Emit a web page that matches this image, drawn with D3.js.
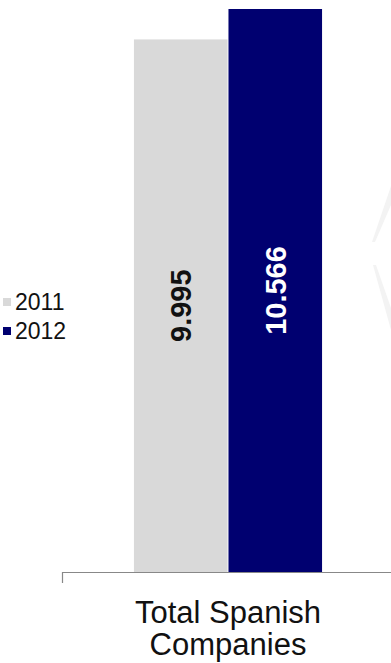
<!DOCTYPE html>
<html>
<head>
<meta charset="utf-8">
<script src="https://cdn.jsdelivr.net/npm/d3@7/dist/d3.min.js"></script>
<style>
html,body{margin:0;padding:0;background:#fff;}
svg{display:block;font-family:Arial,"Liberation Sans",sans-serif;}
</style>
</head>
<body>
<svg id="chart" width="391" height="663"></svg>
<script>
const categories = ["Total Spanish Companies"];
const seriesNames = ["2011", "2012"];
const values2011 = [9995];
const values2012 = [10566];
const valueLabels2011 = ["9.995"];
const valueLabels2012 = ["10.566"];
const colors = ["#d9d9d9", "#000070"];

const svg = d3.select("#chart");
const baseY = 572;
const y = d3.scaleLinear().domain([0, 10566]).range([baseY, 9]);
const x0 = d3.scaleBand().domain(categories).range([62, 394]).paddingInner(0).paddingOuter(0.3737);
const x1 = d3.scaleBand().domain(seriesNames).range([0, x0.bandwidth()]).padding(0.01);

// faint watermark chevron
svg.append("path")
  .attr("d", "M391,186 L372,242 L375,242 L391,205 Z M391,330 L373,265 L376,265 L391,308 Z")
  .attr("fill", "#f3f3f3");

const rows = categories.map((c, i) => ({cat: c, vals: [
  {s: seriesNames[0], v: values2011[i], lab: valueLabels2011[i], col: colors[0], tc: "#111"},
  {s: seriesNames[1], v: values2012[i], lab: valueLabels2012[i], col: colors[1], tc: "#fff"}
]}));

const g = svg.selectAll("g.cat").data(rows).enter().append("g")
  .attr("transform", d => `translate(${x0(d.cat)},0)`);

g.selectAll("rect").data(d => d.vals).enter().append("rect")
  .attr("x", d => x1(d.s))
  .attr("width", x1.bandwidth())
  .attr("y", d => y(d.v))
  .attr("height", d => baseY - y(d.v))
  .attr("fill", d => d.col);

g.selectAll("text.val").data(d => d.vals).enter().append("text")
  .attr("class", "val")
  .attr("transform", d => `translate(${x1(d.s) + x1.bandwidth() / 2},${(y(d.v) + baseY) / 2}) rotate(-90)`)
  .attr("text-anchor", "middle")
  .attr("dy", "0.36em")
  .attr("font-weight", "bold")
  .attr("font-size", 29)
  .attr("fill", d => d.tc)
  .text(d => d.lab);

// axis
const axis = d3.axisBottom(x0).tickSize(0).tickFormat("");
const ag = svg.append("g").attr("transform", `translate(0,${baseY})`).call(axis);
ag.select(".domain").attr("stroke", "#888").attr("stroke-width", 1.2);
svg.append("line").attr("x1", 62.5).attr("x2", 62.5).attr("y1", baseY).attr("y2", baseY + 11)
  .attr("stroke", "#888").attr("stroke-width", 1.2);

// category label
const words = categories[0].split(" ");
const lines = [words.slice(0, 2).join(" "), words.slice(2).join(" ")];
const cx = x0(categories[0]) + x0.bandwidth() / 2;
svg.append("text")
  .attr("text-anchor", "middle")
  .attr("font-size", 31)
  .attr("fill", "#111")
  .selectAll("tspan").data(lines).enter().append("tspan")
  .attr("x", cx)
  .attr("y", (d, i) => 623 + i * 32)
  .text(d => d);

// legend
const leg = svg.append("g");
seriesNames.forEach((s, i) => {
  const ly = 302 + i * 29;
  leg.append("rect").attr("x", 3).attr("y", ly - 4).attr("width", 8).attr("height", 8).attr("fill", colors[i]);
  leg.append("text").attr("x", 15).attr("y", ly).attr("dy", "0.35em")
    .attr("font-size", 23).attr("fill", "#111").text(s);
});
</script>
</body>
</html>
